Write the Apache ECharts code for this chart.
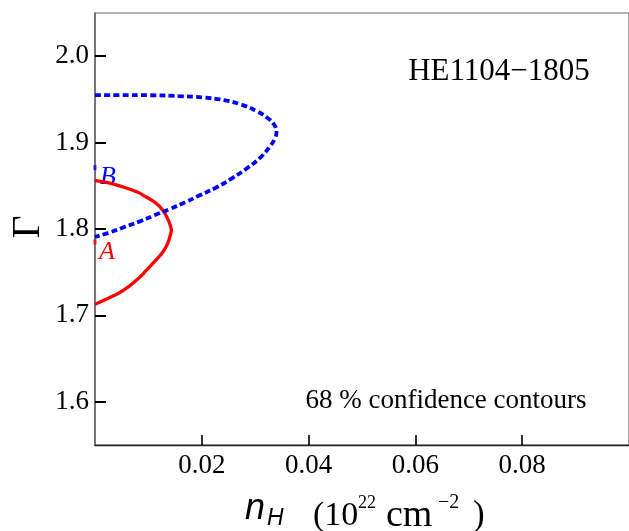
<!DOCTYPE html>
<html><head><meta charset="utf-8">
<script src="https://cdn.jsdelivr.net/npm/echarts@6/dist/echarts.min.js"></script>
<style>html,body{margin:0;padding:0;background:#fff}#c{width:629px;height:531px}</style>
</head><body><div id="c"></div>
<script>
// Contour A (red, solid): nH (1e22 cm^-2) vs Gamma
const contourA_nH    = [0, 0.0022, 0.0053, 0.0078, 0.0096, 0.0114, 0.0127, 0.0136, 0.0141, 0.0143, 0.0141, 0.0136, 0.0127, 0.0114, 0.0096, 0.0078, 0.0053, 0.0028, 0];
const contourA_Gamma = [1.856, 1.854, 1.8486, 1.843, 1.837, 1.830, 1.8216, 1.812, 1.804, 1.7985, 1.793, 1.783, 1.7734, 1.764, 1.752, 1.741, 1.729, 1.7207, 1.713];
// Contour B (blue, dashed)
const contourB_nH    = [0, 0.0047, 0.0102, 0.0158, 0.0204, 0.0241, 0.0274, 0.0302, 0.0322, 0.0335, 0.0340, 0.0337, 0.0327, 0.0311, 0.0287, 0.0255, 0.0226, 0.0194, 0.0170, 0.0139, 0.0111, 0.0084, 0.0056, 0.0028, 0];
const contourB_Gamma = [1.955, 1.955, 1.9548, 1.9538, 1.9521, 1.9492, 1.9440, 1.9366, 1.9290, 1.9212, 1.913, 1.9049, 1.8951, 1.8835, 1.8714, 1.8581, 1.8477, 1.8384, 1.8312, 1.8228, 1.8158, 1.8088, 1.8025, 1.7961, 1.7907];
// best-fit markers at nH = 0
const bestA = [0, 1.785];
const bestB = [0, 1.871];
const xTicks = [0.02, 0.04, 0.06, 0.08];
const yTicks = [1.6, 1.7, 1.8, 1.9, 2.0];

const serif = '"Liberation Serif", "Times New Roman", serif';
const sans = '"Liberation Sans", Arial, sans-serif';
const chart = echarts.init(document.getElementById('c'), null, {renderer: 'canvas'});
const zip = (a, b) => a.map((v, i) => [v, b[i]]);
const txt = (x, y, text, size, opts) => ({type: 'text', x: x, y: y,
  style: Object.assign({text: text, fontFamily: serif, fontSize: size, fill: '#000', align: 'left', verticalAlign: 'middle'}, opts || {})});

chart.setOption({
  animation: false,
  backgroundColor: '#fff',
  grid: {left: 95, right: -7, top: 13, bottom: 86, show: true, borderColor: '#666', borderWidth: 1.2},
  xAxis: {
    type: 'value', min: 0, max: 0.1,
    axisLine: {show: true, onZero: false, lineStyle: {color: '#222', width: 1.3}},
    axisTick: {show: true, inside: true, length: 10, customValues: xTicks, lineStyle: {color: '#000', width: 1.6}},
    axisLabel: {customValues: xTicks, fontFamily: serif, fontSize: 27, color: '#000', margin: 7,
      formatter: v => v.toFixed(2)},
    splitLine: {show: false}
  },
  yAxis: {
    type: 'value', min: 1.55, max: 2.05,
    axisLine: {show: true, onZero: false, lineStyle: {color: '#666', width: 1.5}},
    axisTick: {show: true, inside: true, length: 11, customValues: yTicks, lineStyle: {color: '#000', width: 2}},
    axisLabel: {customValues: yTicks, fontFamily: serif, fontSize: 27, color: '#000', margin: 6,
      formatter: v => v.toFixed(1)},
    splitLine: {show: false}
  },
  series: [
    {type: 'line', data: zip(contourA_nH, contourA_Gamma), smooth: 0.5, smoothMonotone: 'none', symbol: 'none',
      lineStyle: {color: '#ff0000', width: 3.3}},
    {type: 'line', data: zip(contourB_nH, contourB_Gamma), smooth: 0.5, smoothMonotone: 'none', symbol: 'none',
      lineStyle: {color: '#0000ff', width: 3.8, type: [6, 3.2]}},
    {type: 'scatter', data: [bestA], symbol: 'rect', symbolSize: [3, 5], itemStyle: {color: '#ff0000'}},
    {type: 'scatter', data: [bestB], symbol: 'rect', symbolSize: [3, 5], itemStyle: {color: '#0000ff'}}
  ],
  graphic: [
    txt(499, 72, 'HE1104\u22121805', 31, {align: 'center'}),
    txt(446, 401, '68 % confidence contours', 27, {align: 'center'}),
    txt(108, 177, 'B', 26, {fontStyle: 'italic', fill: '#0000ff', align: 'center'}),
    txt(107, 252, 'A', 26, {fontStyle: 'italic', fill: '#ff0000', align: 'center'}),
    {type: 'text', x: 28, y: 227, rotation: Math.PI / 2,
      style: {text: '\u0393', fontFamily: serif, fontSize: 40, fill: '#000', align: 'center', verticalAlign: 'middle'}},
    txt(245, 509, 'n', 36, {fontFamily: sans, fontStyle: 'italic'}),
    txt(267, 519, 'H', 23, {fontFamily: sans, fontStyle: 'italic'}),
    txt(313, 516, '(10', 34),
    txt(358, 503, '22', 18),
    txt(386, 516, 'cm', 38),
    txt(438, 503, '\u22122', 20),
    txt(473, 516, ')', 35)
  ]
});
</script></body></html>
